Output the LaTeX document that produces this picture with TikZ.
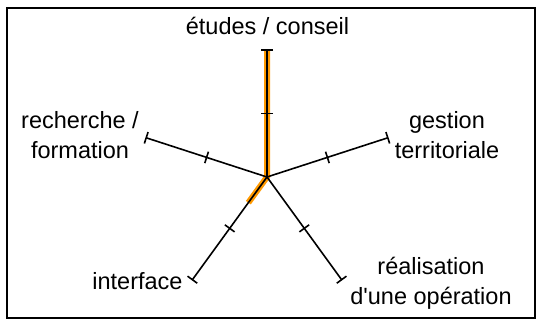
\documentclass[tikz,border=0pt]{standalone}
\usepackage{fontspec}
\setmainfont{Liberation Sans}[Ligatures=TeXOff]
\usetikzlibrary{decorations.markings,calc}
\definecolor{hiorange}{RGB}{255,153,0}
\begin{document}
\begin{tikzpicture}[x=1pt,y=-1pt,
  axisline/.style={line width=1.6pt, postaction={decorate},
    decoration={markings,
      mark=at position 0.5 with {\draw[line width=1.6pt] (0,-6pt) -- (0,6pt);},
      mark=at position 1 with {\draw[line width=1.6pt] (0,-6pt) -- (0,6pt);}}},
  lbl/.style={font=\fontsize{23.5}{30}\selectfont, align=center, inner sep=0pt, anchor=base},
  hilite/.style={hiorange, line width=6pt}]
\useasboundingbox (0,0) rectangle (536,320);
\draw[line width=2pt] (7,8) rectangle (535,318);
\coordinate (c) at (267,177);
\coordinate (eTop) at (267,50);
\coordinate (eLeft) at (146.2,137.8);
\coordinate (eRight) at (387.8,137.8);
\coordinate (eBL) at (192.4,279.7);
\coordinate (eBR) at (341.6,279.7);
\coordinate (oBL) at ($(c)!0.25!(eBL)$);
\draw[hilite] (eTop) -- (c) -- (oBL);
\draw[axisline] (c) -- (eTop);
\draw[axisline] (c) -- (eLeft);
\draw[axisline] (c) -- (eRight);
\draw[axisline] (c) -- (eBL);
\draw[axisline] (c) -- (eBR);
\node[lbl] (tEtudes) at (267.5,35) {études / conseil};
\node[lbl] (tRech) at (80,159) {recherche /\\formation};
\node[lbl] (tGest) at (447,159) {gestion\\territoriale};
\node[lbl] (tInter) at (137.5,290) {interface};
\node[lbl] (tReal) at (431,305) {réalisation\\d'une opération};
\end{tikzpicture}
\end{document}
